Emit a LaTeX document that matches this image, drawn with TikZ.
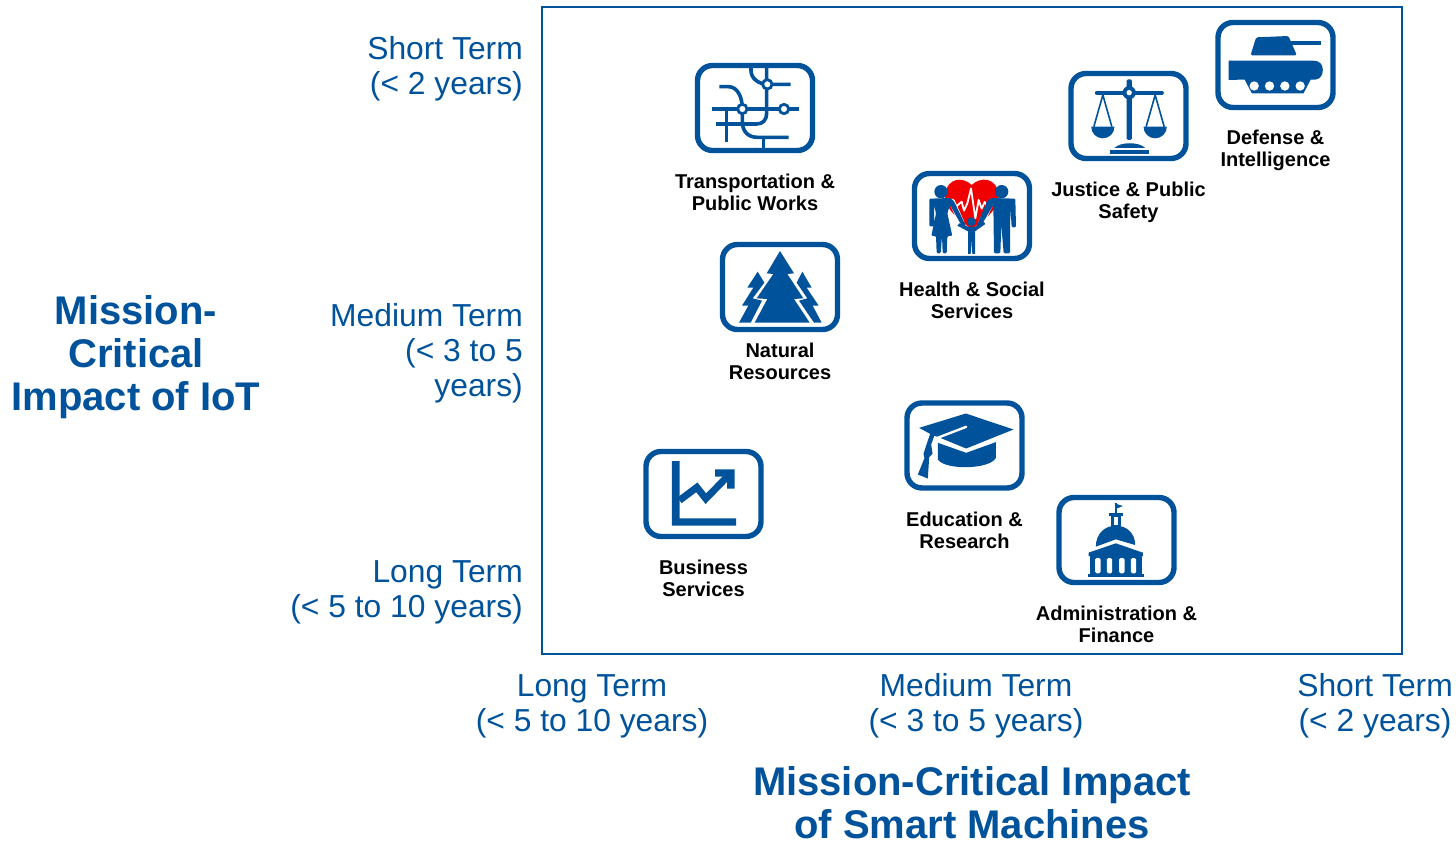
\documentclass[tikz,border=0pt]{standalone}
\usepackage{fontspec}
\setmainfont{Liberation Sans}
\usetikzlibrary{positioning}
\definecolor{brandblue}{HTML}{00529B}
\definecolor{heartred}{HTML}{F00000}

\begin{document}
\begin{tikzpicture}[x=1pt, y=-1pt, every node/.style={text=brandblue, inner sep=0pt, align=center}]
    \tikzset{
      tick/.style={font=\fontsize{31.8}{35}\selectfont},
      heading/.style={font=\fontsize{40}{43}\selectfont\bfseries},
      iconbox/.style={draw=brandblue, line width=5.4pt, rounded corners=15pt, minimum width=115pt, minimum height=85pt, fill=white},
      caption/.style={text=black, font=\fontsize{20}{22}\selectfont\bfseries},
      zoomed/.style n args={3}{shift={(#1.center)}, x=0.3333pt, y=-0.3333pt, shift={(-#2,-#3)}},
      ink/.style={fill=brandblue, draw=none},
      wire/.style={draw=brandblue, line width=3.6pt, line join=round},
      hole/.style={fill=white, draw=none}
    }
    \useasboundingbox (0,0) rectangle (1456,842);
    \node[draw=brandblue, line width=2.4pt, minimum width=860pt, minimum height=647pt, inner sep=0pt] (frame) at (972,330.5) {};

    \node[heading] (yhead) at (136,357) {Mission-\\Critical\\Impact of IoT};
    \node[tick, anchor=east, align=right] (yshort) at (523,69) {Short Term\\(< 2 years)};
    \node[tick, anchor=east, align=right] (ymedium) at (523,353) {Medium Term\\(< 3 to 5\\years)};
    \node[tick, anchor=east, align=right] (ylong) at (523,592) {Long Term\\(< 5 to 10 years)};
    \node[tick] (xlong) at (592,706) {Long Term\\(< 5 to 10 years)};
    \node[tick] (xmedium) at (976,706) {Medium Term\\(< 3 to 5 years)};
    \node[tick, anchor=east, align=center] (xshort) at (1453,706) {Short Term\\(< 2 years)};
    \node[heading] (xhead) at (972,803) {Mission-Critical Impact\\of Smart Machines};

    \node[iconbox] (transport) at (755,108) {};
    \node[iconbox] (justice) at (1128.5,116) {};
    \node[iconbox] (defense) at (1275.5,65) {};
    \node[iconbox] (health) at (972,216) {};
    \node[iconbox] (natural) at (780,287) {};
    \node[iconbox] (education) at (964.5,445.5) {};
    \node[iconbox] (business) at (703.5,494) {};
    \node[iconbox] (admin) at (1116.5,540) {};

    \node[caption, below=20.5pt of transport] (transportcap) {Transportation \&\\Public Works};
    \node[caption, below=20.5pt of justice] (justicecap) {Justice \& Public\\Safety};
    \node[caption, below=20pt of defense] (defensecap) {Defense \&\\Intelligence};
    \node[caption, below=20.5pt of health] (healthcap) {Health \& Social\\Services};
    \node[caption, below=10.5pt of natural] (naturalcap) {Natural\\Resources};
    \node[caption, below=21.5pt of education] (educationcap) {Education \&\\Research};
    \node[caption, below=20.5pt of business] (businesscap) {Business\\Services};
    \node[caption, below=20.5pt of admin] (admincap) {Administration \&\\Finance};

    \begin{scope}[zoomed={transport}{225}{174}]
      \draw[wire] (213,50) -- (213,62) .. controls (213,85) and (235,102) .. (262,103) -- (332,103);
      \draw[wire] (260,50) -- (260,190) .. controls (260,210) and (248,222) .. (230,222) -- (108,222);
      \draw[wire] (118,110) -- (145,110) .. controls (172,110) and (187,140) .. (187,177) -- (187,215) .. controls (187,245) and (205,262) .. (232,262) -- (326,262);
      \draw[wire] (250,262) -- (250,298);
      \draw[wire] (95,177) -- (358,177);
      \draw[wire] (140,177) -- (140,276);
      \draw[draw=brandblue, line width=2.8pt, fill=white] (262,103) circle (14);
      \draw[draw=brandblue, line width=2.8pt, fill=white] (187,177) circle (14);
      \draw[draw=brandblue, line width=2.8pt, fill=white] (312,177) circle (14);
    \end{scope}

    \begin{scope}[zoomed={justice}{220}{318}]
      \draw[draw=brandblue, line width=4pt, line cap=round] (125,248) -- (320,248);
      \fill[ink, rounded corners=1.5pt] (214,208) rectangle (230,390);
      \fill[ink] (222,248) circle (20);
      \fill[hole] (222,248) circle (8);
      \draw[draw=brandblue, line width=1.6pt] (116,350) -- (143,255) -- (170,350);
      \draw[draw=brandblue, line width=1.6pt] (273,350) -- (300,255) -- (327,350);
      \fill[ink] (108,350) arc[start angle=180, end angle=0, radius=35] -- cycle;
      \fill[ink] (265,350) arc[start angle=180, end angle=0, radius=35] -- cycle;
      \fill[ink] (178,414) .. controls (195,395) and (253,395) .. (270,414) -- cycle;
      \fill[ink] (165,420) rectangle (282,432);
    \end{scope}

    \begin{scope}[zoomed={defense}{661}{165}]
      \fill[ink, rounded corners=1.5pt] (586,136) -- (603,82) -- (700,78) -- (725,136) -- cycle;
      \fill[ink] (705,92) rectangle (798,104);
      \fill[ink] (520,152) -- (775,152) .. controls (795,152) and (803,165) .. (803,180) .. controls (803,195) and (795,208) .. (780,209) -- (555,209) -- (520,210) -- cycle;
      \fill[ink] (567,206) -- (768,206) -- (745,250) -- (590,250) -- cycle;
      \foreach \wheelx in {597,643,689,735}
        \fill[hole] (\wheelx,228) circle (14);
    \end{scope}

    \begin{scope}[zoomed={health}{216}{168}]
      \fill[heartred] (215,75) .. controls (190,50) and (140,50) .. (135,108) .. controls (135,150) and (180,180) .. (215,208) .. controls (250,180) and (298,150) .. (296,105) .. controls (290,50) and (240,50) .. (215,75);
      \draw[white, line width=1.8pt, line join=round] (168,140) -- (185,125) -- (192,152) -- (202,130) -- (213,85) -- (226,175) -- (236,120) -- (245,146) -- (254,126) -- (262,140);
      \draw[white, line width=6pt, line cap=round] (156,125) -- (184,188);
      \draw[white, line width=6pt, line cap=round] (274,125) -- (244,188);
      \fill[ink] (123,95) circle (20);
      \fill[ink] (305,95) circle (20);
      \fill[ink] (214,185) circle (13);
      \fill[ink, rounded corners=1.2pt] (88,199) -- (88,116) -- (150,114) -- (161,122) -- (198,198) -- (190,206) -- (150,135) -- (142,160) -- (157,228) -- (142,228) -- (140,280) -- (128,280) -- (126,228) -- (122,280) -- (110,280) -- (108,228) -- (94,228) -- (108,160) -- (102,135) -- (102,199) -- cycle;
      \fill[ink, rounded corners=1.2pt] (348,202) -- (346,116) -- (275,114) -- (262,122) -- (230,198) -- (238,206) -- (280,135) -- (282,280) -- (301,280) -- (304,195) -- (311,280) -- (330,280) -- (331,135) -- (335,202) -- cycle;
      \fill[ink] (204,200) -- (178,190) -- (172,197) -- (204,214) -- (204,282) -- (212,282) -- (214,240) -- (217,282) -- (225,282) -- (225,214) -- (256,192) -- (251,185) -- (225,200) -- cycle;
    \end{scope}

    \begin{scope}[zoomed={natural}{210}{156}]
      \fill[ink] (210,48) -- (252,115) -- (232,117) -- (280,190) -- (252,192) -- (299,263) -- (134,263) -- (172,192) -- (140,190) -- (190,117) -- (170,115) -- cycle;
      \fill[ink] (143,110) -- (163,143) -- (128,190) -- (156,197) -- (122,263) -- (87,263) -- (115,212) -- (96,212) -- (130,158) -- (112,158) -- cycle;
      \fill[ink] (277,110) -- (305,158) -- (290,158) -- (326,212) -- (308,212) -- (335,263) -- (312,263) -- (267,197) -- (292,190) -- (260,143) -- cycle;
    \end{scope}

    \begin{scope}[zoomed={education}{208}{153}]
      \fill[ink] (72,100) -- (212,57) -- (355,105) -- (213,162) -- (135,130) -- (112,122) -- cycle;
      \draw[white, line width=2.4pt, line cap=round] (213,97) -- (122,132);
      \fill[ink] (128,145) -- (213,175) -- (302,143) -- (302,190) .. controls (285,225) and (150,228) .. (128,195) -- cycle;
      \fill[ink] (105,118) -- (118,122) -- (108,150) -- (112,178) -- (102,188) -- (98,252) -- (68,240) -- (88,190) -- (85,178) -- (94,150) -- cycle;
    \end{scope}

    \begin{scope}[zoomed={business}{205}{162}]
      \fill[ink] (110,63) -- (133,63) -- (133,235) -- (303,235) -- (303,257) -- (110,257) -- cycle;
      \draw[draw=brandblue, line width=7pt] (133,181) -- (185,142) -- (212,176) -- (285,101);
      \fill[ink] (240,88) -- (298,88) -- (298,146) -- (276,146) -- (276,110) -- (240,110) -- cycle;
    \end{scope}

    \begin{scope}[zoomed={admin}{214}{150}]
      \draw[draw=brandblue, line width=1.5pt] (213,38) -- (213,70);
      \fill[ink] (208,40) -- (233,48) -- (214,56) -- cycle;
      \fill[ink] (190,70) rectangle (232,78);
      \fill[ink] (196,76) rectangle (226,108);
      \fill[hole] (205,80) rectangle (217,104);
      \fill[ink] (152,170) .. controls (152,130) and (180,107) .. (212,107) .. controls (245,107) and (270,130) .. (270,165) -- (212,148) -- cycle;
      \fill[ink] (130,188) -- (212,160) -- (293,188) -- (293,198) -- (130,198) -- cycle;
      \fill[ink] (134,198) rectangle (289,254);
      \fill[ink] (128,252) rectangle (295,262);
      \foreach \winx in {150,185,222,257}
        \fill[hole, rounded corners=1.5pt] (\winx,250) -- (\winx,204) -- ({\winx+16},204) -- ({\winx+16},250) -- cycle;
    \end{scope}
  \end{tikzpicture}
\end{document}
